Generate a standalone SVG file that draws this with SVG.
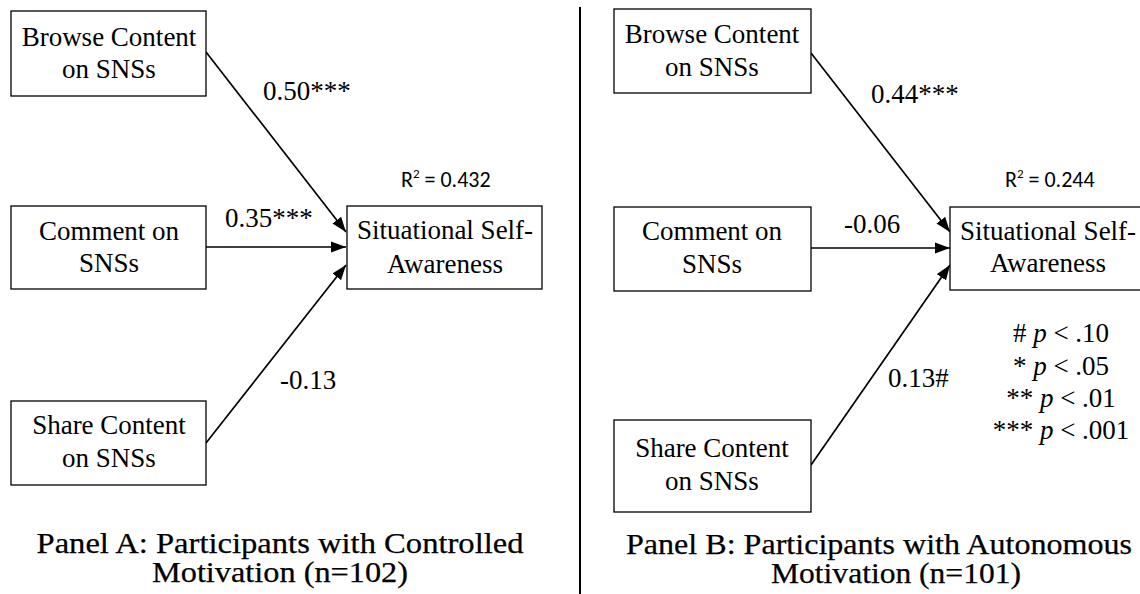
<svg xmlns="http://www.w3.org/2000/svg" width="1140" height="594" viewBox="0 0 1140 594">
<style>
.box{fill:#fff;stroke:#000;stroke-width:1.3}
.t{font-family:"Liberation Serif","Times New Roman",Tinos,serif;font-size:27px;fill:#000}
.m{text-anchor:middle}
.r2{font-family:Carlito,Lato,"Liberation Sans",sans-serif;font-size:22px;fill:#000}
.ttl{font-family:"Liberation Serif","Times New Roman",Tinos,serif;font-size:29px;fill:#000;stroke:#000;stroke-width:0.25;text-anchor:middle}
.c{stroke:#000;stroke-width:1.7;fill:none;marker-end:url(#ah)}
</style>
<defs>
<marker id="ah" markerUnits="userSpaceOnUse" markerWidth="16" markerHeight="12" refX="15" refY="6" orient="auto">
<path d="M0,0.5 L15,6 L0,11.5 Z" fill="#000"/>
</marker>
</defs>
<rect width="1140" height="594" fill="#fff"/>
<line x1="580" y1="7" x2="580" y2="594" stroke="#000" stroke-width="2"/>
<g id="connectors">
<line class="c" x1="206" y1="52" x2="346" y2="232"/>
<line class="c" x1="206" y1="247" x2="346" y2="247"/>
<line class="c" x1="206" y1="443" x2="346" y2="265"/>
<line class="c" x1="811" y1="53" x2="950" y2="232"/>
<line class="c" x1="811" y1="248" x2="950" y2="248"/>
<line class="c" x1="811" y1="465" x2="950" y2="265"/>
<text class="t" x="263" y="100">0.50***</text>
<text class="t" x="225" y="227">0.35***</text>
<text class="t" x="280" y="389">-0.13</text>
<text class="t" x="871" y="103">0.44***</text>
<text class="t" x="844" y="233">-0.06</text>
<text class="t" x="888" y="387">0.13#</text>
</g>
<g id="a-browse">
<rect class="box" x="11" y="11" width="195" height="85"/>
<text class="t m" x="109" y="46">Browse Content</text>
<text class="t m" x="109" y="78">on SNSs</text>
</g>
<g id="a-comment">
<rect class="box" x="11" y="206" width="195" height="83"/>
<text class="t m" x="109" y="240">Comment on</text>
<text class="t m" x="109" y="272">SNSs</text>
</g>
<g id="a-share">
<rect class="box" x="11" y="401" width="195" height="84"/>
<text class="t m" x="109" y="434">Share Content</text>
<text class="t m" x="109" y="467">on SNSs</text>
</g>
<g id="a-ssa">
<rect class="box" x="347" y="206" width="195" height="83"/>
<text class="t m" x="445" y="239">Situational Self-</text>
<text class="t m" x="445" y="273">Awareness</text>
<text class="r2" x="401" y="187">R<tspan font-size="13" dy="-9">2</tspan><tspan dy="9"> = 0.432</tspan></text>
</g>
<g id="b-browse">
<rect class="box" x="614" y="9" width="197" height="84"/>
<text class="t m" x="712" y="43">Browse Content</text>
<text class="t m" x="712" y="76">on SNSs</text>
</g>
<g id="b-comment">
<rect class="box" x="614" y="207" width="197" height="84"/>
<text class="t m" x="712" y="240">Comment on</text>
<text class="t m" x="712" y="273">SNSs</text>
</g>
<g id="b-share">
<rect class="box" x="614" y="420" width="197" height="92"/>
<text class="t m" x="712" y="457">Share Content</text>
<text class="t m" x="712" y="490">on SNSs</text>
</g>
<g id="b-ssa">
<rect class="box" x="950" y="207" width="195" height="83"/>
<text class="t m" x="1048" y="240">Situational Self-</text>
<text class="t m" x="1048" y="272">Awareness</text>
<text class="r2" x="1005" y="187">R<tspan font-size="13" dy="-9">2</tspan><tspan dy="9"> = 0.244</tspan></text>
</g>
<g id="legend">
<text class="t m" x="1061" y="342"># <tspan font-style="italic">p</tspan> &lt; .10</text>
<text class="t m" x="1061" y="375">* <tspan font-style="italic">p</tspan> &lt; .05</text>
<text class="t m" x="1061" y="407">** <tspan font-style="italic">p</tspan> &lt; .01</text>
<text class="t m" x="1061" y="439">*** <tspan font-style="italic">p</tspan> &lt; .001</text>
</g>
<g id="title-a">
<text class="ttl" x="280" y="553" textLength="487" lengthAdjust="spacingAndGlyphs">Panel A: Participants with Controlled</text>
<text class="ttl" x="280" y="582" textLength="256" lengthAdjust="spacingAndGlyphs">Motivation (n=102)</text>
</g>
<g id="title-b">
<text class="ttl" x="879" y="554" textLength="506" lengthAdjust="spacingAndGlyphs">Panel B: Participants with Autonomous</text>
<text class="ttl" x="896" y="583" textLength="250" lengthAdjust="spacingAndGlyphs">Motivation (n=101)</text>
</g>
</svg>
